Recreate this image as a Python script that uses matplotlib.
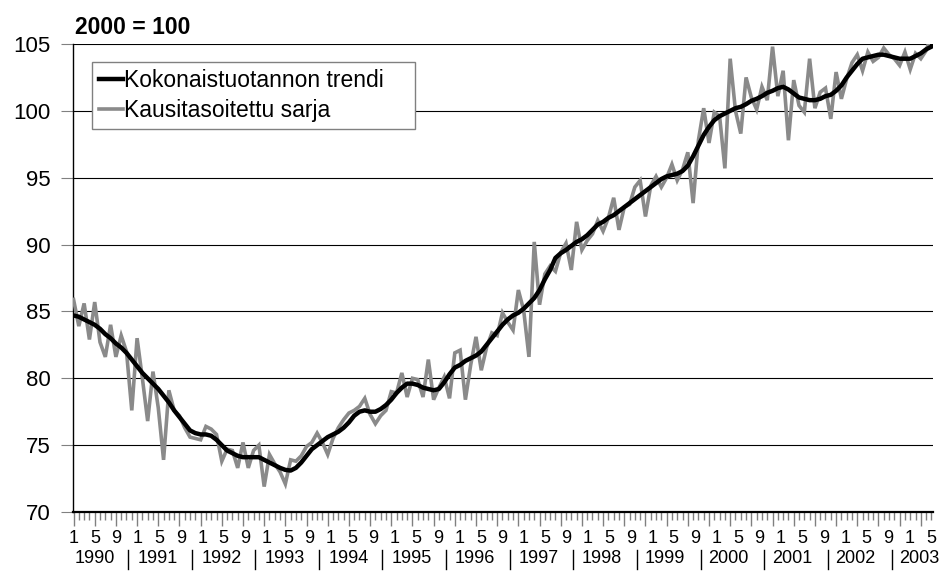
import matplotlib
matplotlib.use('Agg')
import matplotlib.pyplot as plt
from matplotlib.lines import Line2D

plt.rcParams['font.family'] = ['Liberation Sans', 'DejaVu Sans']

# ---- data (monthly, Jan 1990 .. Jul 2003) ----
years = ['1990', '1991', '1992', '1993', '1994', '1995', '1996',
         '1997', '1998', '1999', '2000', '2001', '2002', '2003']
month_names = ['1', '2', '3', '4', '5', '6', '7', '8', '9', '10', '11', '12']

trend = [
    84.7, 84.6, 84.4, 84.2, 84.0, 83.7, 83.3, 83.0, 82.6, 82.3, 81.9, 81.4,
    80.9, 80.4, 80.0, 79.6, 79.2, 78.7, 78.2, 77.6, 77.1, 76.6, 76.1, 75.9,
    75.8, 75.8, 75.7, 75.4, 75.0, 74.6, 74.4, 74.2, 74.1, 74.1, 74.1, 74.1,
    73.9, 73.7, 73.5, 73.3, 73.15, 73.1, 73.3, 73.7, 74.2, 74.7, 75.0, 75.3,
    75.6, 75.8, 76.0, 76.3, 76.7, 77.2, 77.5, 77.6, 77.5, 77.5, 77.7, 78.0,
    78.4, 78.9, 79.3, 79.6, 79.6, 79.5, 79.3, 79.2, 79.1, 79.2, 79.7, 80.3,
    80.8, 81.0, 81.3, 81.5, 81.7, 82.0, 82.5, 83.0, 83.5, 84.0, 84.4, 84.7,
    84.9, 85.2, 85.6, 86.0, 86.6, 87.4, 88.1, 89.0, 89.35, 89.6, 89.9, 90.2,
    90.4, 90.7, 91.1, 91.5, 91.7, 92.0, 92.2, 92.5, 92.8, 93.1, 93.4, 93.7,
    94.0, 94.3, 94.6, 94.9, 95.1, 95.2, 95.3, 95.5, 95.9, 96.6, 97.4, 98.2,
    98.8, 99.3, 99.6, 99.8, 100.0, 100.2, 100.3, 100.5, 100.75, 100.9, 101.1, 101.35,
    101.5, 101.7, 101.8, 101.6, 101.3, 101.0, 100.9, 100.8, 100.8, 100.9, 101.1, 101.2,
    101.5, 101.9, 102.5, 103.0, 103.5, 103.9, 104.0, 104.1, 104.2, 104.2, 104.1, 104.0,
    103.9, 103.9, 103.9, 104.1, 104.3, 104.6, 104.8,
]

seasonal = [
    85.9, 83.9, 85.6, 82.9, 85.7, 82.7, 81.6, 84.0, 81.6, 83.2, 82.0, 77.6,
    83.0, 80.0, 76.8, 80.5, 77.8, 73.9, 79.1, 77.6, 77.2, 76.3, 75.6, 75.5,
    75.4, 76.4, 76.2, 75.8, 73.8, 74.7, 74.6, 73.3, 75.2, 73.3, 74.6, 75.0,
    71.9, 74.3, 73.6, 73.0, 72.1, 73.9, 73.8, 74.2, 74.9, 75.2, 75.9, 75.2,
    74.3, 75.5, 76.3, 76.9, 77.4, 77.6, 77.9, 78.5, 77.3, 76.6, 77.2, 77.6,
    79.0, 78.9, 80.4, 78.6, 80.0, 79.9, 78.6, 81.4, 78.4, 79.3, 80.1, 78.5,
    81.9, 82.1, 78.4, 81.0, 83.1, 80.6, 82.3, 83.4, 83.2, 84.9, 84.2, 83.6,
    86.6, 85.1, 81.6, 90.2, 85.5, 87.8, 88.4, 88.0, 89.4, 90.1, 88.1, 91.7,
    89.6, 90.3, 90.8, 91.8, 91.0, 92.0, 93.5, 91.1, 92.8, 93.0, 94.3, 94.8,
    92.1, 94.4, 95.1, 94.3, 95.0, 96.0, 94.8, 95.6, 96.9, 93.1, 97.8, 100.2,
    97.6, 99.9, 99.6, 95.7, 103.9, 100.0, 98.3, 102.5, 101.0, 100.1, 101.8, 100.8,
    104.8, 101.1, 103.0, 97.8, 102.3, 100.4, 99.9, 103.9, 100.2, 101.4, 101.7, 99.4,
    102.9, 100.9, 102.4, 103.6, 104.2, 103.0, 104.4, 103.7, 104.0, 104.7, 104.2, 103.9,
    103.4, 104.4, 103.1, 104.3, 103.9, 104.5, 105.7,
]

label_trend = 'Kokonaistuotannon trendi'
label_seasonal = 'Kausitasoitettu sarja'
title_text = '2000 = 100'

N = len(trend)
x = list(range(N))

W, H = 945, 571
fig = plt.figure(figsize=(W / 100, H / 100), dpi=100)
ax = fig.add_axes([73 / W, 1 - 512 / H, 860 / W, 468 / H])

l_seas, = ax.plot(x, seasonal, color='#8a8a8a', lw=2.6, solid_joinstyle='miter', zorder=3)
l_trend, = ax.plot(x, trend, color='black', lw=3.2, solid_joinstyle='round', zorder=4)

ax.set_xlim(-0.1, 162.3)
ax.set_ylim(70, 105)
ax.set_yticks(range(70, 106, 5))
ax.yaxis.grid(True, color='black', lw=0.8)
ax.set_axisbelow(True)
ax.tick_params(axis='y', labelsize=16, length=9, width=0.8, color='#808080', pad=7)

for s in ['top', 'right']:
    ax.spines[s].set_visible(False)
ax.spines['left'].set_linewidth(1.0)
ax.spines['bottom'].set_linewidth(1.6)

# x ticks: every month minor, every 4th month major
ax.set_xticks(list(range(0, N, 4)))
ax.set_xticks(list(range(N)), minor=True)
ax.set_xticklabels([])
ax.tick_params(axis='x', which='major', length=10, width=1.0, color='#808080')
ax.tick_params(axis='x', which='minor', length=5.8, width=1.0, color='#808080')

tr = ax.get_xaxis_transform()
for i in range(0, N, 4):
    ax.text(i * 1.012, -0.056, month_names[i % 12], transform=tr,
            ha='center', va='center', fontsize=13)
for k, y in enumerate(years):
    ax.text(4 + k * 11.97, -0.100, y, transform=tr,
            ha='center', va='center', fontsize=13)
for k in range(1, len(years)):
    s = 10.26 + (k - 1) * 12.02
    ax.add_line(Line2D([s, s], [-0.082, -0.122], transform=tr, color='black',
                       lw=1.0, clip_on=False))

fig.text(75 / W, 1 - 28 / H, title_text, fontsize=16.5, fontweight='bold',
         ha='left', va='center')

leg = ax.legend([l_trend, l_seas], [label_trend, label_seasonal],
                loc='upper left', bbox_to_anchor=((92 - 73) / 860, 0.5, 323 / 860, (512 - 62) / 468 - 0.5),
                mode='expand', borderaxespad=0, fontsize=16.5, handlelength=1.05,
                handletextpad=0.05, borderpad=0.3, labelspacing=0.3,
                fancybox=False, framealpha=1, edgecolor='#808080')
leg.get_frame().set_linewidth(1.0)

fig.savefig('out.png', dpi=100)
